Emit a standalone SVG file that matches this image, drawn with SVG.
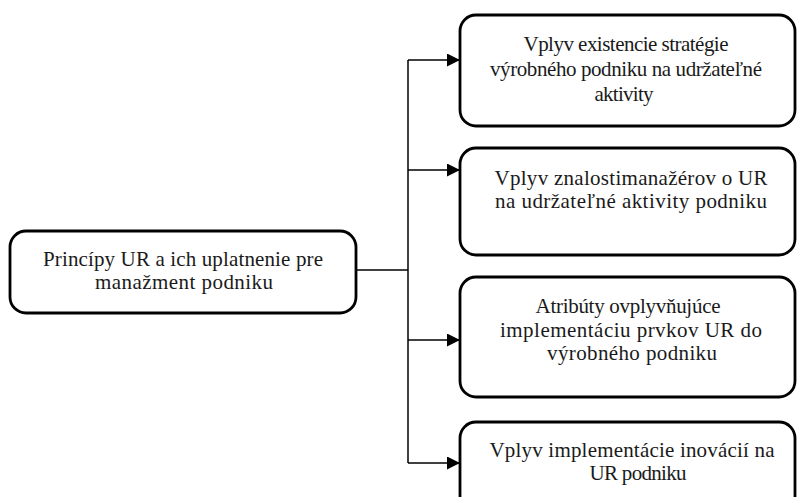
<svg xmlns="http://www.w3.org/2000/svg" width="797" height="497" viewBox="0 0 797 497">
<style>
.box{fill:#fff;stroke:#000;stroke-width:2.8}
.t{font-family:"Liberation Serif","Times New Roman",serif;font-size:21px;fill:#1a1a1a;text-anchor:middle}
.c{fill:none;stroke:#000;stroke-width:1.5}
</style>
<defs>
<marker id="ah" markerWidth="13" markerHeight="13" refX="12" refY="6.5" orient="auto" markerUnits="userSpaceOnUse" viewBox="0 0 13 13">
<path d="M0,0 L13,6.5 L0,13 Z" fill="#000"/>
</marker>
</defs>
<rect width="797" height="497" fill="#fff"/>
<g id="connectors">
<path class="c" d="M356,270 H408"/>
<path class="c" d="M408,60 V463"/>
<path class="c" d="M408,60 H459" marker-end="url(#ah)"/>
<path class="c" d="M408,170 H459" marker-end="url(#ah)"/>
<path class="c" d="M408,340 H459" marker-end="url(#ah)"/>
<path class="c" d="M408,463 H459" marker-end="url(#ah)"/>
</g>
<g id="root">
<rect class="box" x="10" y="231" width="346" height="82" rx="16"/>
<text class="t" x="183" y="266" textLength="280" lengthAdjust="spacing">Princípy UR a ich uplatnenie pre</text>
<text class="t" x="184" y="289" textLength="178" lengthAdjust="spacing">manažment podniku</text>
</g>
<g id="n1">
<rect class="box" x="460" y="15" width="335" height="111" rx="16"/>
<text class="t" x="626" y="51" textLength="205" lengthAdjust="spacing">Vplyv existencie stratégie</text>
<text class="t" x="626" y="76" textLength="272" lengthAdjust="spacing">výrobného podniku na udržateľné</text>
<text class="t" x="624" y="101" textLength="59" lengthAdjust="spacing">aktivity</text>
</g>
<g id="n2">
<rect class="box" x="460" y="148" width="335" height="107" rx="16"/>
<text class="t" x="631" y="185" textLength="273" lengthAdjust="spacing">Vplyv znalostimanažérov o UR</text>
<text class="t" x="631" y="208" textLength="272" lengthAdjust="spacing">na udržateľné aktivity podniku</text>
</g>
<g id="n3">
<rect class="box" x="460" y="277" width="335" height="120" rx="16"/>
<text class="t" x="628" y="313" textLength="185" lengthAdjust="spacing">Atribúty ovplyvňujúce</text>
<text class="t" x="631" y="337" textLength="262" lengthAdjust="spacing">implementáciu prvkov UR do</text>
<text class="t" x="632" y="360" textLength="170" lengthAdjust="spacing">výrobného podniku</text>
</g>
<g id="n4">
<rect class="box" x="460" y="422" width="335" height="100" rx="16"/>
<text class="t" x="632" y="457" textLength="285" lengthAdjust="spacing">Vplyv implementácie inovácií na</text>
<text class="t" x="638" y="480" textLength="97" lengthAdjust="spacing">UR podniku</text>
</g>
</svg>
